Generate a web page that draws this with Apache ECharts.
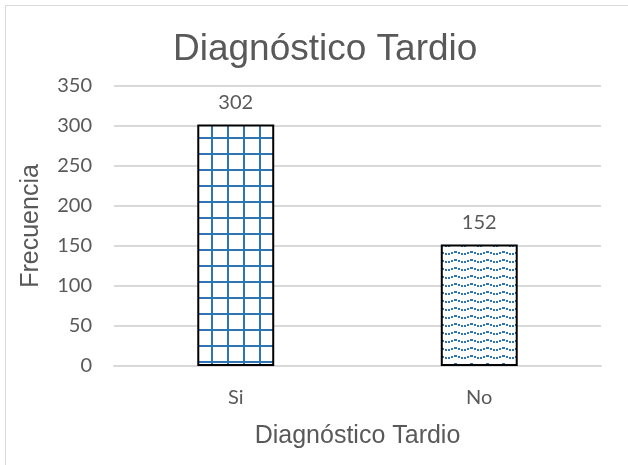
<!DOCTYPE html>
<html>
<head>
<meta charset="utf-8">
<script src="https://cdn.jsdelivr.net/npm/echarts@6/dist/echarts.min.js"></script>
<style>
html,body{margin:0;padding:0;background:#fff;}
#chart{width:628px;height:465px;}
</style>
</head>
<body>
<div id="chart"></div>
<script>
var categories = ['Si', 'No'];
var frecuencia = [302, 152];
var yTicks = [0, 50, 100, 150, 200, 250, 300, 350];
var chartTitle = 'Diagnóstico Tardio';
var xAxisTitle = 'Diagnóstico Tardio';
var yAxisTitle = 'Frecuencia';

var BLUE = '#2E75B6';
var TEXT = '#595959';

function gridPattern() {
  var c = document.createElement('canvas');
  c.width = 16; c.height = 16;
  var g = c.getContext('2d');
  g.fillStyle = '#fff'; g.fillRect(0, 0, 16, 16);
  g.fillStyle = BLUE;
  g.fillRect(3, 0, 2, 16);
  g.fillRect(0, 9, 16, 2);
  return c;
}
function wavePattern() {
  var c = document.createElement('canvas');
  c.width = 16; c.height = 8;
  var g = c.getContext('2d');
  g.fillStyle = '#fff'; g.fillRect(0, 0, 16, 8);
  g.fillStyle = BLUE;
  // short dashes forming a dotted wave
  g.fillRect(0, 5, 2, 2);
  g.fillRect(3, 4, 2, 2);
  g.fillRect(6, 3, 3, 2);
  g.fillRect(10, 4, 2, 2);
  g.fillRect(13, 5, 2, 2);
  return c;
}

var patterns = [gridPattern(), wavePattern()];

var chart = echarts.init(document.getElementById('chart'), null, {renderer: 'canvas'});
chart.setOption({
  backgroundColor: '#fff',
  animation: false,
  title: {
    text: chartTitle,
    left: 168,
    top: 26,
    textStyle: {fontFamily: 'Liberation Sans', fontSize: 37, fontWeight: 'normal', color: TEXT}
  },
  graphic: [{
    type: 'rect', shape: {x: 5.5, y: 5.5, width: 700, height: 600},
    style: {fill: null, stroke: '#d9d9d9', lineWidth: 1}, silent: true, z: -1
  }],
  grid: {left: 114, right: 27, top: 86, bottom: 99, containLabel: false},
  xAxis: {
    type: 'category',
    data: categories,
    name: xAxisTitle,
    nameLocation: 'middle',
    nameGap: 58,
    nameTextStyle: {fontFamily: 'Liberation Sans', fontSize: 25, color: TEXT},
    axisLine: {lineStyle: {color: '#d9d9d9', width: 2}},
    axisTick: {show: false},
    axisLabel: {fontFamily: 'Lato', fontSize: 20, color: TEXT, margin: 22}
  },
  yAxis: {
    type: 'value',
    min: 0, max: 350, interval: 50,
    name: yAxisTitle,
    nameLocation: 'middle',
    nameGap: 70,
    nameTextStyle: {fontFamily: 'Liberation Sans', fontSize: 25, color: TEXT},
    axisLine: {show: false},
    axisTick: {show: false},
    splitLine: {lineStyle: {color: '#d9d9d9', width: 2}},
    axisLabel: {fontFamily: 'Lato', fontSize: 20, color: TEXT, margin: 22,
      formatter: function (v) { return yTicks.indexOf(v) >= 0 ? String(v) : ''; }}
  },
  series: [{
    type: 'bar',
    barWidth: '31.6%',
    data: frecuencia.map(function (v, i) {
      return {
        value: v,
        itemStyle: {
          color: {image: patterns[i], repeat: 'repeat'},
          borderColor: '#000',
          borderWidth: 2
        }
      };
    }),
    label: {show: true, position: 'top', distance: 12,
      fontFamily: 'Lato', fontSize: 20, color: TEXT}
  }]
});
</script>
</body>
</html>
